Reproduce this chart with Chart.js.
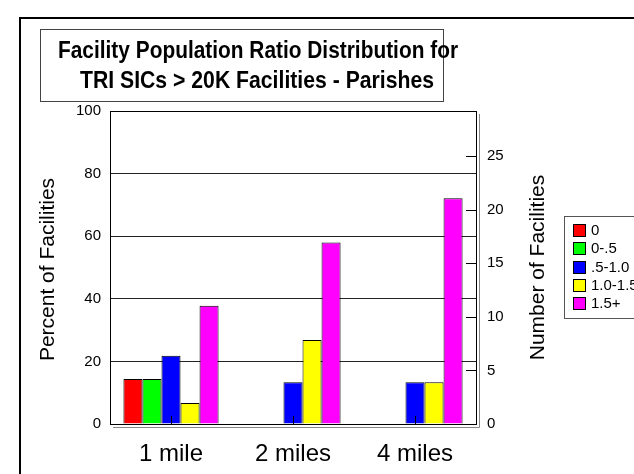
<!DOCTYPE html>
<html>
<head>
<meta charset="utf-8">
<script src="https://cdn.jsdelivr.net/npm/chart.js@4"></script>
<style>
  html, body { margin: 0; padding: 0; background: #fff; }
</style>
</head>
<body>
<canvas id="ratioChart" width="634" height="474"></canvas>
<script>
// categories and series (percent of facilities)
var categories = ['1 mile', '2 miles', '4 miles'];
var seriesLabels = ['0', '0-.5', '.5-1.0', '1.0-1.5', '1.5+'];
var ratio0 = [14.4, 0, 0];
var ratio0to05 = [14.4, 0, 0];
var ratio05to10 = [21.8, 13.3, 13.3];
var ratio10to15 = [6.7, 26.8, 13.3];
var ratio15plus = [37.8, 58.0, 72.1];
var seriesColors = ['#ff0000', '#00ff00', '#0000ff', '#ffff00', '#ff00ff'];

// tick labels
var percentTicks = [0, 20, 40, 60, 80, 100];
var countTicks = [0, 5, 10, 15, 20, 25];
var countMax = 29.2;

var titleLines = ['Facility Population Ratio Distribution for', 'TRI SICs > 20K Facilities - Parishes'];
var leftTitle = 'Percent of Facilities';
var rightTitle = 'Number of Facilities';

var FONT = "'Liberation Sans', Arial, sans-serif";

var decor = {
    id: 'decor',
    beforeDraw: function (chart) {
        var c = chart.ctx;
        c.save();
        c.fillStyle = '#fff';
        c.fillRect(0, 0, chart.width, chart.height);
        // outer frame
        c.strokeStyle = '#000';
        c.lineWidth = 2;
        c.strokeRect(20, 18, 700, 600);
        // title box
        c.lineWidth = 1;
        c.strokeStyle = '#444';
        c.strokeRect(40.5, 29.5, 403, 72);
        c.fillStyle = '#000';
        c.font = 'bold 24px ' + FONT;
        c.textAlign = 'center';
        c.textBaseline = 'alphabetic';
        c.fillText(titleLines[0], 258, 58, 400);
        c.fillText(titleLines[1], 257, 88, 354);
        c.restore();
    },
    afterDatasetsDraw: function (chart) {
        var c = chart.ctx;
        var a = chart.chartArea;
        var x = chart.scales.x;
        var y1 = chart.scales.y1;
        c.save();
        // 3d floor / side shadow
        c.strokeStyle = '#888';
        c.lineWidth = 1;
        c.beginPath();
        c.moveTo(a.left + 3, a.bottom + 3.5);
        c.lineTo(a.right + 3.5, a.bottom + 3.5);
        c.lineTo(a.right + 3.5, a.top + 3);
        c.stroke();
        // plot frame
        c.strokeStyle = '#000';
        c.strokeRect(a.left + 0.5, a.top + 0.5, a.right - a.left, a.bottom - a.top);
        // inner ticks on x axis
        c.beginPath();
        for (var i = 0; i < categories.length; i++) {
            var px = Math.round(x.getPixelForTick(i)) + 0.5;
            c.moveTo(px, a.bottom);
            c.lineTo(px, a.bottom - 8);
        }
        // inner ticks on right axis
        countTicks.forEach(function (v) {
            if (v === 0) return;
            var py = Math.round(y1.getPixelForValue(v)) + 0.5;
            c.moveTo(a.right - 10, py);
            c.lineTo(a.right, py);
        });
        c.stroke();
        // axis titles
        c.fillStyle = '#000';
        c.font = '21px ' + FONT;
        c.textAlign = 'center';
        c.textBaseline = 'middle';
        var cy = (a.top + a.bottom) / 2;
        c.translate(48, cy + 2);
        c.rotate(-Math.PI / 2);
        c.fillText(leftTitle, 0, 0);
        c.rotate(Math.PI / 2);
        c.translate(-48, -cy - 2);
        c.translate(538, cy);
        c.rotate(-Math.PI / 2);
        c.fillText(rightTitle, 0, 0);
        c.restore();
        // legend
        c.save();
        c.strokeStyle = '#555';
        c.lineWidth = 1;
        c.strokeRect(564.5, 216.5, 120, 102);
        c.font = '15px ' + FONT;
        c.textAlign = 'left';
        c.textBaseline = 'middle';
        chart.data.datasets.forEach(function (ds, k) {
            var top = Math.round(224 + k * 18.3);
            c.fillStyle = ds.backgroundColor;
            c.fillRect(573, top, 13, 13);
            c.strokeStyle = '#000';
            c.strokeRect(573.5, top + 0.5, 12, 12);
            c.fillStyle = '#000';
            c.fillText(ds.label, 591, top + 7);
        });
        c.restore();
    }
};

var datasets = [ratio0, ratio0to05, ratio05to10, ratio10to15, ratio15plus].map(function (vals, k) {
    return {
        label: seriesLabels[k],
        data: vals,
        backgroundColor: seriesColors[k],
        borderColor: '#000',
        borderWidth: 1,
        borderSkipped: 'bottom',
        categoryPercentage: 0.78,
        barPercentage: 1.0,
        yAxisID: 'y'
    };
});

var ctx = document.getElementById('ratioChart').getContext('2d');
var chart = new Chart(ctx, {
    type: 'bar',
    data: {
        labels: categories,
        datasets: datasets
    },
    options: {
        responsive: false,
        animation: false,
        layout: { padding: { top: 111, left: 0, right: 0, bottom: 0 } },
        plugins: {
            legend: { display: false },
            title: { display: false },
            tooltip: { enabled: false }
        },
        scales: {
            x: {
                grid: { display: false },
                border: { display: false },
                ticks: { color: '#000', font: { family: FONT, size: 24 }, padding: 8 },
                afterFit: function (s) { s.height = 50; }
            },
            y: {
                position: 'left',
                min: 0,
                max: 100,
                afterBuildTicks: function (s) { s.ticks = percentTicks.map(function (v) { return { value: v }; }); },
                grid: { color: '#222', drawTicks: false },
                border: { display: false },
                ticks: { color: '#000', font: { family: FONT, size: 15 }, padding: 9 },
                afterFit: function (s) { s.width = 110; }
            },
            y1: {
                position: 'right',
                min: 0,
                max: countMax,
                afterBuildTicks: function (s) { s.ticks = countTicks.map(function (v) { return { value: v }; }); },
                grid: { display: false, drawTicks: false },
                border: { display: false },
                ticks: { color: '#000', font: { family: FONT, size: 15 }, padding: 11 },
                afterFit: function (s) { s.width = 158; }
            }
        }
    },
    plugins: [decor]
});
</script>
</body>
</html>
